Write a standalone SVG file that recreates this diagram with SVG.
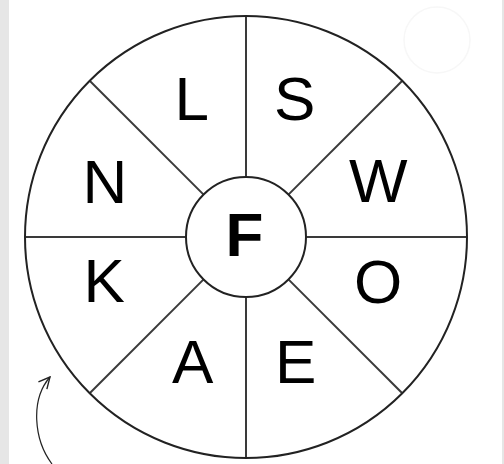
<svg xmlns="http://www.w3.org/2000/svg" width="504" height="464" viewBox="0 0 504 464">
<style>
.ring{fill:none;stroke:#222;stroke-width:2}
.spoke{stroke:#3a3a3a;stroke-width:2}
.lt{font-family:"Liberation Sans",Arial,sans-serif;font-size:62px;fill:#000}
.bold{font-weight:bold}
</style>
<defs>
<marker id="ah" viewBox="0 0 10 10" refX="9" refY="5" markerWidth="14" markerHeight="14" markerUnits="userSpaceOnUse" orient="auto">
<path d="M1,1 L9,5 L1,9" fill="none" stroke="#222" stroke-width="1"/>
</marker>
</defs>
<rect x="0" y="0" width="504" height="464" fill="#ffffff"/>
<rect x="0" y="0" width="9" height="464" fill="#e6e6e6"/>
<rect x="502" y="0" width="2" height="464" fill="#e6e6e6"/>
<circle cx="437" cy="40" r="33" fill="none" stroke="#f7f7f7" stroke-width="1.5"/>
<g id="connectors">
<line class="spoke" x1="246" y1="16" x2="246" y2="177"/>
<line class="spoke" x1="246" y1="297" x2="246" y2="458"/>
<line class="spoke" x1="25" y1="237" x2="186" y2="237"/>
<line class="spoke" x1="306" y1="237" x2="467" y2="237"/>
<line class="spoke" x1="89.7" y1="80.7" x2="203.6" y2="194.6"/>
<line class="spoke" x1="402.3" y1="80.7" x2="288.4" y2="194.6"/>
<line class="spoke" x1="89.7" y1="393.3" x2="203.6" y2="279.4"/>
<line class="spoke" x1="402.3" y1="393.3" x2="288.4" y2="279.4"/>
<path d="M52,464 C34,440 30,400 50,377" fill="none" stroke="#222" stroke-width="1.2" marker-end="url(#ah)"/>
</g>
<g id="outer"><circle class="ring" cx="246" cy="237" r="221"/></g>
<g id="center"><circle class="ring" cx="246" cy="237" r="60" fill="#fff"/><text class="lt bold" x="225.5" y="256">F</text></g>
<g id="seg-L"><text class="lt" x="174.5" y="120">L</text></g>
<g id="seg-S"><text class="lt" x="274" y="120">S</text></g>
<g id="seg-N"><text class="lt" x="82.5" y="203">N</text></g>
<g id="seg-W"><text class="lt" x="349" y="202">W</text></g>
<g id="seg-K"><text class="lt" x="83.5" y="302">K</text></g>
<g id="seg-O"><text class="lt" x="354" y="303">O</text></g>
<g id="seg-A"><text class="lt" x="172" y="383">A</text></g>
<g id="seg-E"><text class="lt" x="275" y="383">E</text></g>
</svg>
